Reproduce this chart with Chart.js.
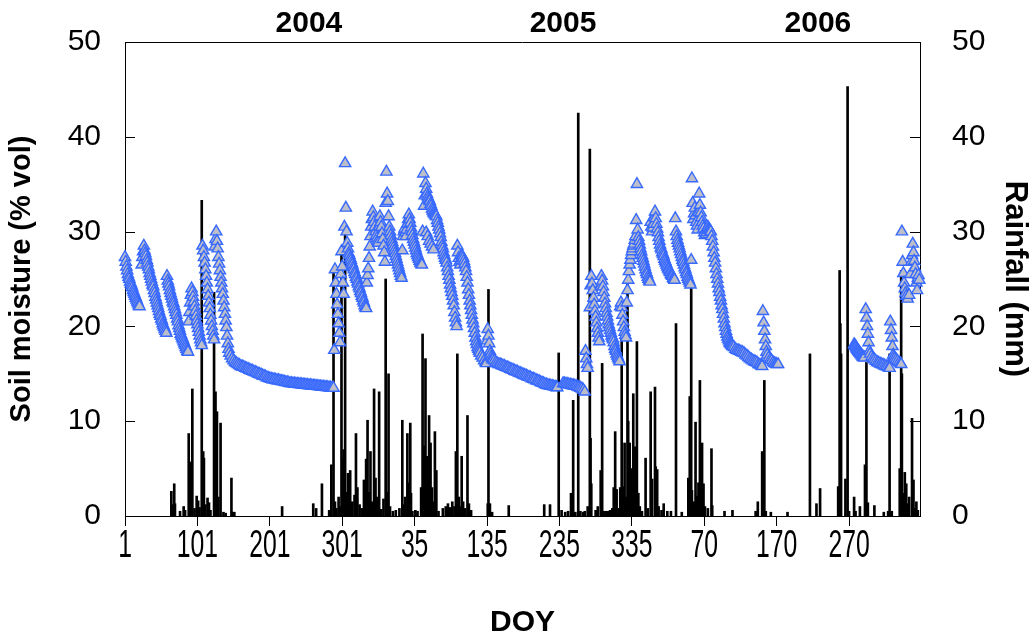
<!DOCTYPE html>
<html><head><meta charset="utf-8">
<script src="https://cdn.jsdelivr.net/npm/chart.js@4.4.1/dist/chart.umd.min.js"></script>
<style>html,body{margin:0;padding:0;background:#fff;}#wrap{width:1033px;height:644px;}</style>
</head><body><div id="wrap"><canvas id="c" width="1033" height="644" style="width:1033px;height:644px"></canvas></div>
<script>
// x axis: running day index starting 1 Jan 2004; tick labels are DOY
const tickDays = [1,101,201,301,401,501,601,701,801,901,1001];
const tickLabels = ['1','101','201','301','35','135','235','335','70','170','270'];
const yearLabels = ['2004','2005','2006'];
const yearLabelDays = [255,606,958];

// Soil moisture (% vol): [day index, value]
const moistWet2004 = [[1,27.3],[2,26.8],[3,26.3],[4,25.9],[5,25.5],[6,25.2],[7,25.0],[8,24.7],[9,24.5],[10,24.3],[11,24.1],[12,23.8],[13,23.6],[14,23.4],[15,23.2],[16,23.0],[17,22.8],[18,22.6],[19,22.4],[20,22.2],[21,22.1],
[24,26.5],[25,27.3],[26,27.9],[27,28.5],[28,28.0],[29,27.7],[30,27.4],[31,27.0],[32,26.7],[33,26.3],[34,26.0],[35,25.6],[36,25.3],[37,25.0],[38,24.7],[39,24.4],[40,24.2],[41,23.8],[42,23.5],[43,23.1],[44,22.8],[45,22.5],[46,22.2],[47,21.9],[48,21.6],[49,21.3],[50,21.1],[51,20.8],[52,20.6],[53,20.3],[54,20.1],[55,19.9],[56,19.7],[57,19.5],[58,19.3],
[59,25.3],[60,24.8],[61,24.5],[62,24.2],[63,23.8],[64,23.5],[65,23.2],[66,22.9],[67,22.6],[68,22.4],[69,22.1],[70,21.8],[71,21.5],[72,21.2],[73,20.8],[74,20.5],[75,20.1],[76,19.8],[77,19.5],[78,19.2],[79,19.0],[80,18.8],[81,18.6],[82,18.4],[83,18.2],[84,18.0],[85,17.8],[86,17.6],[87,17.4],[88,17.3],
[89,20.5],[90,21.5],[91,22.5],[92,23.3],[93,24.0],[94,23.6],[95,23.1],[96,22.6],[97,22.1],[98,21.6],[99,21.1],[100,20.6],[101,20.2],[102,19.8],[103,19.4],[104,19.0],[105,18.6],[106,18.3],[107,18.0],
[108,28.5],[109,28.0],[110,27.3],[111,26.7],[112,26.0],[113,25.3],[114,24.6],[115,23.9],[116,23.2],[117,22.5],[118,21.9],[119,21.2],[120,20.6],[121,20.0],[122,19.5],[123,19.0],[124,18.6],
[125,28.4],[126,29.2],[127,30.0],[128,29.0],[129,28.2],[130,27.3],[131,26.6],[132,25.9],[133,25.2],[134,24.6],[135,24.0],[136,23.4],[137,22.7],[138,22.0],[139,21.3],[140,20.6],[141,19.9],[142,19.0],[143,18.2],[144,17.6],[145,17.2]];
const moistDry2004 = [[147,16.9],[149,16.6],[151,16.4],[153,16.2],[155,16.1],[157,16.0],[159,15.9],[161,15.8],[163,15.75],[165,15.7],[167,15.6],[169,15.55],[171,15.5],[173,15.4],[175,15.35],[177,15.3],[179,15.2],[181,15.15],[183,15.1],[185,15.0],[187,14.95],[189,14.9],[191,14.8],[193,14.75],[195,14.7],[197,14.6],[199,14.55],[201,14.5],[203,14.45],[205,14.4],[207,14.4],[209,14.35],[211,14.3],[213,14.3],[215,14.25],[217,14.2],[219,14.2],[221,14.15],[223,14.1],[225,14.1],[227,14.05],[229,14.0],[231,14.0],[233,13.97],[235,13.95],[237,13.93],[239,13.92],[241,13.9],[243,13.88],[245,13.87],[247,13.85],[249,13.83],[251,13.82],[253,13.8],[255,13.78],[257,13.77],[259,13.75],[261,13.73],[263,13.72],[265,13.7],[267,13.68],[269,13.67],[271,13.65],[273,13.63],[275,13.62],[277,13.6],[279,13.58],[281,13.57],[283,13.55],[285,13.53],[287,13.52],[289,13.5]];
const moistWet0405 = [[290,17.5],[291,26.0],[292,24.6],[293,23.4],[294,22.3],[295,21.3],[296,20.3],[297,19.3],[298,18.3],
[299,25.5],[300,27.9],[301,26.3],[302,24.6],[303,23.4],
[304,30.5],[305,37.2],[306,32.5],[307,30.0],[308,28.8],[309,28.2],[310,27.7],[311,27.5],[312,27.2],[313,27.0],[314,26.7],[315,26.5],[316,26.2],[317,26.0],[318,25.7],[319,25.5],[320,25.2],[321,25.0],[322,24.7],[323,24.5],[324,24.2],[325,24.0],[326,23.7],[327,23.5],[328,23.2],[329,23.0],[330,22.7],[331,22.5],[332,22.2],[333,22.0],[334,21.9],
[335,24.6],[336,25.4],[337,26.1],[338,27.2],[339,28.4],[340,29.5],[341,30.5],[342,31.3],[343,32.1],[344,31.5],[345,31.0],[346,30.5],[347,30.0],[348,29.6],[349,29.3],[350,29.0],[351,28.8],[352,30.5],[353,31.6],[354,31.0],[355,30.5],[356,29.8],[357,29.2],[358,28.5],[359,27.8],[360,26.8],
[361,33.0],[362,36.3],[363,34.0],[364,33.2],[365,31.6],[366,30.5],[367,30.0],[368,29.6],[369,29.2],[370,28.9],[371,28.6],[372,28.3],[373,28.0],[374,27.7],[375,27.4],[376,27.1],[377,26.8],[378,26.5],[379,26.2],[380,25.9],[381,25.6],[382,25.3],[383,25.1],
[384,28.0],[385,29.5],[386,30.0],[387,30.3],[388,29.9],[389,29.5],[390,30.2],[391,30.8],[392,31.3],[393,31.8],[394,31.3],[395,30.9],[396,30.4],[397,30.0],[398,29.6],[399,29.2],[400,28.9],[401,28.6],[402,28.3],[403,28.0],[404,27.7],[405,27.5],[406,27.3],[407,27.1],[408,26.9],[409,26.7],[410,26.6],[411,26.5],
[412,30.0],[413,36.1],[414,32.7],[415,33.8],[416,35.1],[417,34.5],[418,34.0],[419,33.7],[420,33.5],[421,33.3],[422,33.2],[423,32.9],[424,32.7],[425,32.4],[426,32.2],[427,32.0],[428,31.9],[429,31.8],[430,31.7],[431,31.6],[432,31.2],[433,30.9],[434,30.5],[435,30.2],[436,29.8],[437,29.4],[438,28.9],[439,28.5],[440,28.2],[441,27.8],[442,27.5],[443,27.2],[444,27.0],[445,26.7],[446,26.2],[447,25.8],[448,25.3],[449,24.9],[450,24.4],[451,24.0],[452,23.6],[453,23.2],[454,22.7],[455,22.2],[456,21.5],[457,20.9],[458,20.4],[459,20.0],
[417,29.9],[419,29.5],[421,29.0],[423,28.7],[425,28.4],[427,28.1],
[460,28.5],[461,27.8],[462,27.2],[463,26.8],[464,26.5],[465,27.0],[466,27.5],[467,27.4],[468,27.2],[469,26.9],[470,26.6],[471,26.2],[472,25.8],[473,25.2],[474,24.6],[475,23.9],[476,23.3],[477,22.7],[478,22.2],[479,21.7],[480,21.2],[481,20.7],[482,20.3],[483,19.8],[484,19.3],[485,18.8],[486,18.4],[487,18.1],[488,17.8],[489,17.6],[490,17.4],[491,17.2],[493,16.9],[495,16.7],[497,16.4],[499,16.2],[500,16.1],
[501,18.5],[502,19.7],[503,19.0],[504,18.2],[505,17.4],[506,17.1],[507,16.8],[508,16.6],[509,16.5]];
const moistDry2005 = [[511,16.4],[513,16.2],[515,16.1],[517,16.0],[519,16.0],[521,15.9],[523,15.85],[525,15.8],[527,15.7],[529,15.65],[531,15.6],[533,15.5],[535,15.45],[537,15.4],[539,15.3],[541,15.25],[543,15.2],[545,15.1],[547,15.05],[549,15.0],[551,14.9],[553,14.85],[555,14.8],[557,14.7],[559,14.65],[561,14.6],[563,14.5],[565,14.45],[567,14.4],[569,14.3],[571,14.25],[573,14.2],[575,14.1],[577,14.05],[579,14.0],[581,13.9],[583,13.85],[585,13.8],[587,13.75],[589,13.72],[591,13.7],[593,13.65],[595,13.62],[597,13.58],[598,13.55],
[606,14.0],[608,13.97],[610,13.93],[612,13.9],[614,13.87],[616,13.83],[618,13.8],[620,13.77],[622,13.73],[624,13.7],[626,13.63],[628,13.57],[630,13.5],[632,13.43],[634,13.3],[636,13.1]];
const moistWet0506 = [[637,17.4],[638,16.6],[639,16.0],[640,15.6],
[643,22.0],[644,24.3],[645,25.3],[646,24.5],[647,23.8],[648,23.0],[649,22.3],[650,21.6],[651,21.0],[652,20.4],[653,19.8],[654,19.3],[655,18.8],[656,18.4],
[658,24.2],[659,25.3],[660,24.8],[661,24.2],[662,23.6],[663,23.0],[664,22.4],[665,21.9],[666,21.4],[667,21.0],[668,20.6],[669,20.2],[670,19.9],[671,19.6],[672,19.3],[673,19.0],[674,18.8],[675,18.6],[676,18.3],[677,17.9],[678,17.6],[679,17.4],[680,17.1],[681,16.9],[682,16.7],[683,16.5],[684,16.3],
[685,22.1],[686,22.5],[687,22.0],[688,21.2],[689,20.5],[690,19.9],[691,19.4],[692,19.1],[693,18.8],
[694,22.5],[695,23.8],[696,24.9],[697,25.8],[698,26.5],[699,27.0],[700,27.5],[701,27.9],[702,28.2],[703,28.5],[704,28.7],[705,29.1],[706,29.5],[707,31.2],[708,35.0],[709,30.2],[710,29.4],[711,29.0],[712,28.6],[713,28.2],[714,27.9],[715,27.5],[716,27.2],[717,26.9],[718,26.6],[719,26.3],[720,26.0],[721,25.7],[722,25.5],[723,25.2],[724,25.0],[725,24.8],[726,24.7],
[727,31.0],[728,30.5],[729,30.0],[730,30.4],[731,30.8],[732,31.5],[733,32.1],[734,31.4],[735,30.8],[736,30.3],[737,29.9],[738,29.4],[739,29.0],[740,28.6],[741,28.3],[742,28.1],[743,27.8],[744,27.6],[745,27.4],[746,27.1],[747,26.9],[748,26.7],[749,26.5],[750,26.3],[751,26.1],[752,26.0],[753,25.8],[754,25.7],[755,25.5],[756,25.4],[757,25.3],[758,25.1],[759,25.0],[760,24.9],
[761,31.4],[762,30.0],[763,29.5],[764,29.1],[765,28.8],[766,28.5],[767,28.2],[768,27.9],[769,27.6],[770,27.3],[771,27.0],[772,26.8],[773,26.5],[774,26.2],[775,26.0],[776,25.7],[777,25.5],[778,25.2],[779,25.0],[780,24.8],[781,24.6],[782,24.4],
[783,27.0],[784,35.6],[785,33.0],[786,31.3],[787,31.9],[788,32.5],[789,31.7],[790,31.0],[791,30.6],[792,30.2],[793,32.0],[794,34.0],[795,32.8],[796,32.0],[797,31.5],[798,31.0],[799,30.6],[800,30.3],[801,29.9],[802,29.6],[803,29.7],[804,29.9],[805,30.2],[806,30.5],[807,30.3],[808,30.2],[809,30.1],[810,30.0],[811,29.5],[812,29.0],[813,28.4],[814,27.8],[815,27.2],[816,26.7],[817,26.1],[818,25.5],[819,25.0],[820,24.5],[821,24.0],[822,23.6],[823,23.1],[824,22.7],[825,22.2],[826,21.8],[827,21.3],[828,20.8],[829,20.3],[830,19.9],[831,19.5],[832,19.2],[833,18.9],[834,18.7],[835,18.5],[836,18.3],[837,18.2],[838,18.1],[839,18.0],[840,17.9],
[842,17.8],[844,17.6],[846,17.5],[848,17.45],[850,17.4],[852,17.3],[854,17.25],[856,17.15],[858,17.0],[860,16.9],[862,16.75],[864,16.6],[866,16.5],[868,16.4],[870,16.3],[872,16.25],[874,16.15],[876,16.0],[878,15.95],[880,15.85],[881,15.8],
[882,21.6],[883,20.4],[884,19.5],[885,18.6],[886,17.9],[887,17.3],[888,17.0],[890,16.7],[892,16.5],[894,16.4],[896,16.2],[898,16.1],[900,16.05],[901,16.0],[903,16.0]];
const moistLate2006 = [[1008,18.1],[1009,18.0],[1010,17.9],[1011,17.75],[1012,17.6],[1013,17.5],[1014,17.4],[1015,17.3],[1016,17.2],[1017,17.1],[1018,17.0],[1019,16.9],[1020,16.8],[1021,16.75],[1022,16.7],
[1024,21.8],[1025,20.9],[1026,20.0],[1027,19.2],[1028,18.3],[1029,17.4],[1030,17.1],[1032,16.8],[1034,16.6],[1036,16.5],[1038,16.35],[1040,16.2],[1042,16.15],[1044,16.05],[1046,16.0],[1048,15.95],[1050,15.85],[1052,15.8],[1054,15.75],[1056,15.65],[1057,15.6],
[1058,20.5],[1059,19.6],[1060,18.8],[1061,17.9],[1062,17.0],[1063,16.8],[1064,16.6],[1066,16.5],[1068,16.35],[1070,16.2],[1072,16.1],[1073,16.0],
[1074,30.0],[1075,26.8],[1076,25.6],[1077,24.6],[1078,24.0],[1079,23.5],[1080,23.2],[1082,22.9],[1084,23.3],[1086,25.5],[1087,26.8],[1088,27.5],[1089,28.7],[1090,27.8],[1091,26.9],[1092,26.2],[1093,25.5],[1094,24.6],[1095,23.8],[1096,25.1],[1097,25.4],[1098,24.9]];

// Rainfall (mm): [day index, value]
const rain2004 = [[65,2.6],[67,1.2],[69,3.4],[70,1.3],[77,0.5],[82,1.0],[84,0.6],[89,8.7],[91,5.7],[94,13.4],[97,0.8],[100,2.1],[102,1.6],[104,0.9],[107,33.3],[109,6.8],[110,6.1],[112,1.2],[115,1.9],[117,1.4],[119,0.6],[124,23.6],[126,13.1],[128,11.0],[130,2.0],[133,9.8],[137,0.4],[140,0.3],[148,4.0],[150,0.4],[152,0.4],
[218,1.0],[261,1.3],[265,0.8],[273,3.4],[283,0.6]];
const rain0405 = [[286,5.4],[289,25.9],[291,1.5],[293,0.8],[296,2.0],[298,1.0],[300,28.0],[302,6.0],[303,7.0],[305,29.8],[307,2.5],[309,4.5],[312,4.8],[315,1.5],[318,2.2],[320,8.7],[322,3.0],[325,1.2],[328,0.8],[331,3.8],[334,6.0],[336,10.1],[338,2.5],[340,6.8],[342,1.5],[345,13.4],[347,4.0],[349,2.0],[352,13.1],[355,0.7],[358,1.8],[361,25.0],[363,2.5],[365,15.0],[367,1.0],[371,0.5],[375,0.6],[380,0.8],
[384,10.1],[386,1.2],[388,2.0],[391,8.7],[393,3.5],[395,9.8],[396,2.4],[398,0.5],[402,0.6],[405,0.5],[410,3.0],[412,19.2],[414,7.4],[416,16.6],[418,6.3],[419,4.5],[421,10.6],[423,7.7],[425,3.0],[427,1.5],[429,8.9],[431,4.8],[434,0.5],[440,0.8],[444,1.0],[447,1.3],[450,0.9],[453,1.5],[456,1.0],[458,6.8],[460,17.1],[462,2.0],[464,1.0],[466,6.3],[468,1.5],[471,0.8],[474,10.6],[476,1.3],[479,0.6],[502,1.3],[503,23.9],[505,1.3],[508,0.4],[531,1.1]];
const rain2005 = [[580,1.2],[588,1.2],[600,17.2],[604,0.6],[609,0.4],[613,0.5],[617,2.4],[620,12.2],[623,0.4],[627,42.5],[630,0.5],[634,0.4],[636,0.5],[640,1.0],[643,38.7],[644,8.2],[645,3.4],[651,0.6],[654,1.0],[658,4.8],[660,16.1],[662,0.5],[665,0.5],[668,0.5],[671,0.6],[674,0.8],[676,3.0],[678,8.9],[680,2.8],[683,0.8],[685,3.0],[687,18.9],[689,3.1],[691,7.7],[693,2.0],[695,24.8],[696,10.0],[698,7.7],[700,5.0],[703,12.9],[705,7.3],[707,3.0],[708,18.4],[710,2.4],[712,1.0],[715,0.5],[720,6.1],[723,0.8],[727,13.1],[729,3.9],[733,13.6],[734,5.2],[736,4.9],[738,1.0],[742,0.6],[745,1.3],[750,0.5],[755,0.5],[762,20.3],[770,0.4],[779,4.0],[781,12.6],[783,24.3],[784,2.7],[787,1.5],[789,9.9],[791,2.1],[793,3.5],[795,14.3],[797,5.5],[798,7.7],[800,3.4],[802,1.0],[806,0.8],[811,7.1],[812,1.1],[829,0.5],[840,0.6],[872,0.5],[875,1.5],[881,6.8],[884,14.3],[886,0.5]];
const rain2006 = [[893,0.4],[916,0.4],[947,17.1],[956,1.3],[961,2.9],[986,3.1],[988,25.9],[989,20.3],[990,17.1],[996,3.9],[999,45.3],[1001,0.5],[1008,2.0],[1010,0.5],[1016,1.0],[1023,5.4],[1025,16.2],[1027,1.4],[1036,1.1],[1049,0.4],[1055,0.5],[1057,17.1],[1060,0.5],[1071,5.0],[1073,25.9],[1074,15.0],[1076,2.4],[1078,4.6],[1080,3.4],[1082,1.3],[1084,2.0],[1088,10.3],[1090,3.8],[1092,0.8],[1094,1.5],[1096,0.6]];

const toXY = arrs => arrs.flat().map(p => ({x: p[0], y: p[1]}));
const moistData = toXY([moistWet2004, moistDry2004, moistWet0405, moistDry2005, moistWet0506, moistLate2006]);
const rainData = toXY([rain2004, rain0405, rain2005, rain2006]);

const FONT = '"Liberation Sans", Arial, Helvetica, sans-serif';

const deco = {
  id: 'deco',
  afterDraw(chart) {
    const {ctx, chartArea: a, scales} = chart;
    ctx.save();
    ctx.strokeStyle = '#000';
    ctx.lineWidth = 1;
    ctx.beginPath();
    ctx.moveTo(a.left, a.top + 0.5); ctx.lineTo(a.right, a.top + 0.5);
    ctx.stroke();
    scales.y.ticks.forEach(t => {
      const y = Math.round(scales.y.getPixelForValue(t.value)) + 0.5;
      ctx.beginPath(); ctx.moveTo(a.left, y); ctx.lineTo(a.left + 10, y); ctx.stroke();
    });
    scales.y2.ticks.forEach(t => {
      const y = Math.round(scales.y2.getPixelForValue(t.value)) + 0.5;
      ctx.beginPath(); ctx.moveTo(a.right, y); ctx.lineTo(a.right - 10, y); ctx.stroke();
    });
    ctx.fillStyle = '#000';
    // DOY tick labels (condensed face, as in the original)
    ctx.font = '38px ' + FONT;
    ctx.textAlign = 'center';
    ctx.textBaseline = 'alphabetic';
    tickDays.forEach((d, i) => {
      ctx.save();
      ctx.translate(scales.x.getPixelForValue(d), 557);
      ctx.scale(0.65, 1);
      ctx.fillText(tickLabels[i], 0, 0);
      ctx.restore();
    });
    // year labels
    ctx.font = 'bold 30px ' + FONT;
    ctx.textBaseline = 'middle';
    yearLabels.forEach((t, i) => ctx.fillText(t, scales.x.getPixelForValue(yearLabelDays[i]), 24));
    ctx.restore();
  }
};

new Chart(document.getElementById('c'), {
  type: 'bar',
  data: {
    datasets: [
      {
        type: 'line',
        label: 'Soil moisture',
        data: moistData,
        yAxisID: 'y',
        showLine: false,
        pointStyle: 'triangle',
        pointRadius: 6.5,
        pointBackgroundColor: 'rgb(188,190,202)',
        pointBorderColor: 'rgb(55,105,255)',
        pointBorderWidth: 1.4,
        clip: false,
        order: 0
      },
      {
        type: 'bar',
        label: 'Rainfall',
        data: rainData,
        yAxisID: 'y2',
        backgroundColor: '#000',
        borderWidth: 0,
        barThickness: 2,
        order: 1
      }
    ]
  },
  options: {
    responsive: false,
    devicePixelRatio: 1,
    animation: false,
    events: [],
    layout: {padding: {top: 41, left: 0, right: 0, bottom: 0}},
    plugins: {legend: {display: false}, tooltip: {enabled: false}},
    scales: {
      x: {
        type: 'linear',
        min: 1, max: 1099,
        offset: false,
        afterBuildTicks: s => { s.ticks = tickDays.map(v => ({value: v})); },
        afterFit: s => { s.height = 128; },
        grid: {display: true, offset: false, drawOnChartArea: false, drawTicks: true, tickLength: 10, color: '#000'},
        border: {display: true, color: '#000', width: 1},
        ticks: {display: false, autoSkip: false, maxRotation: 0},
        title: {display: true, text: 'DOY', color: '#000', font: {family: FONT, size: 30, weight: 'bold'}, padding: {top: 0, bottom: 3}}
      },
      y: {
        position: 'left',
        min: 0, max: 50,
        afterFit: s => { s.width = 125; },
        grid: {display: false},
        border: {display: true, color: '#000', width: 1},
        ticks: {stepSize: 10, padding: 16, color: '#000', font: {family: FONT, size: 30}},
        title: {display: true, text: 'Soil moisture (% vol)', color: '#000', font: {family: FONT, size: 29, weight: 'bold'}, padding: {top: 5, bottom: 0}}
      },
      y2: {
        position: 'right',
        min: 0, max: 50,
        afterFit: s => { s.width = 113; },
        grid: {display: false},
        border: {display: true, color: '#000', width: 1},
        ticks: {stepSize: 10, padding: 24, color: '#000', font: {family: FONT, size: 30}},
        title: {display: true, text: 'Rainfall (mm)', color: '#000', font: {family: FONT, size: 31, weight: 'bold'}, padding: {top: 0, bottom: 0}}
      }
    }
  },
  plugins: [deco]
});
</script>
</body></html>
